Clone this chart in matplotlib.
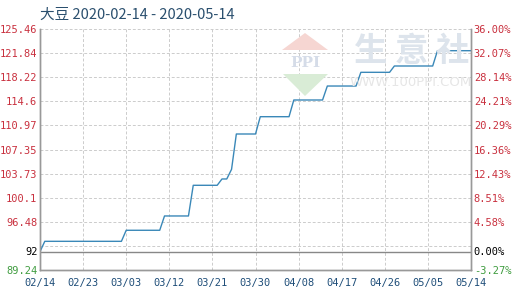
import matplotlib
matplotlib.use("Agg")
import matplotlib.pyplot as plt
from matplotlib.patches import Polygon
import datetime as dt

# ---- data ----
dates = ["2020-02-14", "2020-02-15", "2020-03-02", "2020-03-03", "2020-03-10",
         "2020-03-11", "2020-03-16", "2020-03-17", "2020-03-22", "2020-03-23",
         "2020-03-24", "2020-03-25", "2020-03-26", "2020-03-30", "2020-03-31",
         "2020-04-06", "2020-04-07", "2020-04-13", "2020-04-14", "2020-04-20",
         "2020-04-21", "2020-04-27", "2020-04-28", "2020-05-06", "2020-05-07",
         "2020-05-14"]
prices = [92.0, 93.55, 93.55, 95.21, 95.21,
          97.36, 97.36, 101.97, 101.97, 102.92,
          102.92, 104.37, 109.68, 109.68, 112.28,
          112.28, 114.79, 114.79, 116.89, 116.89,
          118.95, 118.95, 119.90, 119.90, 122.2,
          122.2]
base_price = 92.0
left_ticks = [89.24, 92.86, 96.48, 100.1, 103.73, 107.35, 110.97, 114.6, 118.22, 121.84, 125.46]
left_labels = ["89.24", "", "96.48", "100.1", "103.73", "107.35", "110.97", "114.6", "118.22", "121.84", "125.46"]
right_labels = ["-3.27%", "", "4.58%", "8.51%", "12.43%", "16.36%", "20.29%", "24.21%", "28.14%", "32.07%", "36.00%"]
x_ticks = ["02/14", "02/23", "03/03", "03/12", "03/21", "03/30", "04/08", "04/17", "04/26", "05/05", "05/14"]
title = "大豆 2020-02-14 - 2020-05-14"

plt.rcParams['font.family'] = ['DejaVu Sans Mono', 'Noto Sans CJK SC']

fig = plt.figure(figsize=(5.2, 3.0), dpi=100)
ax = fig.add_axes([40/520, 1-270/300, 431/520, 241/300])

d = [dt.datetime.strptime(s, "%Y-%m-%d") for s in dates]
start = dt.datetime(2020, 2, 14)
end = dt.datetime(2020, 5, 14)
xt = [start + dt.timedelta(days=9*i) for i in range(len(x_ticks))]

# watermark
fig.text(412/520, 1-51/300, "生 意 社", fontsize=24, color="#dde4ec",
         family=['Noto Sans CJK SC'], ha='center', va='center', fontweight='bold', zorder=0)
fig.text(411/520, 1-83/300, "WWW.100PPI.COM", fontsize=9.5, color="#e6e6e6",
         family=['DejaVu Sans'], ha='center', va='center', zorder=0)
def fp(x, y):
    return (x/520, 1-y/300)
fig.patches.append(Polygon([fp(305, 33), fp(282, 50), fp(328, 50)], closed=True,
                           transform=fig.transFigure, facecolor="#f6d6d2", edgecolor='none', zorder=0))
fig.patches.append(Polygon([fp(283, 74), fp(328, 74), fp(305, 96)], closed=True,
                           transform=fig.transFigure, facecolor="#d9ecd6", edgecolor='none', zorder=0))
fig.text(305/520, 1-63/300, "PPI", fontsize=11, color="#d5dce8", family=['DejaVu Serif'],
         ha='center', va='center', fontweight='bold', zorder=0)
ax.patch.set_alpha(0)

ax.plot(d, prices, color="#3a88b8", lw=1.0, zorder=3)
ax.axhline(base_price, color="#888888", lw=1.0, zorder=2)

ax.set_xlim(start, end)
ax.set_ylim(left_ticks[0], left_ticks[-1])
ax.set_yticks(left_ticks)
ax.set_yticklabels(left_labels)
ax.set_xticks(xt)
ax.set_xticklabels(x_ticks)
ax.grid(True, color="#cccccc", linestyle=(0, (3, 2)), lw=0.7, zorder=1)

red = "#c9303e"
for lbl in ax.get_yticklabels():
    lbl.set_color(red)
ax.get_yticklabels()[0].set_color("#3f9c3f")
ax.tick_params(axis='y', length=0, pad=2, labelsize=7.5)
ax.tick_params(axis='x', length=0, pad=6, labelsize=7.5, colors="#1f4e79")
ax.text(-0.006, base_price, "92", transform=ax.get_yaxis_transform(), ha='right', va='center',
        fontsize=7.5, color="black")

ax2 = ax.twinx()
ax2.set_ylim(ax.get_ylim())
ax2.set_yticks(left_ticks)
ax2.set_yticklabels(right_labels)
for lbl in ax2.get_yticklabels():
    lbl.set_color(red)
ax2.get_yticklabels()[0].set_color("#3f9c3f")
ax2.tick_params(axis='y', length=0, pad=2, labelsize=7.5)
ax2.text(1.006, base_price, "0.00%", transform=ax2.get_yaxis_transform(), ha='left', va='center',
         fontsize=7.5, color="black")

for a in (ax, ax2):
    a.spines["top"].set_visible(False)
    for s in ("left", "right", "bottom"):
        a.spines[s].set_color("#999999")
        a.spines[s].set_linewidth(1.0)

fig.text(40/520, 1-15/300, title, fontsize=10.5, color="#2a4f6e",
         family=['Noto Sans CJK SC', 'DejaVu Sans'], ha='left', va='center')

fig.savefig("out.png", dpi=100)
